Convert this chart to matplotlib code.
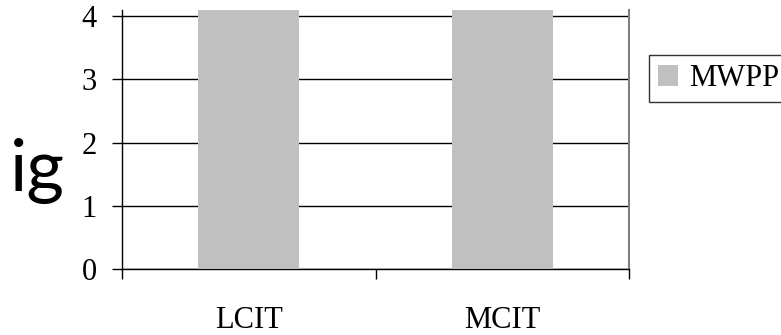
import matplotlib
matplotlib.use("Agg")
import matplotlib.pyplot as plt

# chart data
categories = ["LCIT", "MCIT"]
mwpp = [4.3, 4.3]          # bars run past the top of the axis
y_ticks = [0, 1, 2, 3, 4]

plt.rcParams['font.family'] = ['Liberation Serif', 'DejaVu Serif']

W, H = 781, 335
fig = plt.figure(figsize=(W / 100, H / 100), dpi=100)

# plot area in pixels: left 122, right 629, bottom 269, top 10
ax = fig.add_axes([122 / W, 1 - 269 / H, (629 - 122) / W, (269 - 10) / H])

x = list(range(len(categories)))
ax.bar(x, mwpp, width=0.4, color='#c0c0c0', zorder=3, label='MWPP')

ax.set_xlim(-0.5, len(categories) - 0.5)
ax.set_ylim(0, 4.1)

# category axis: ticks between categories, labels centred
ax.set_xticks([i - 0.5 for i in range(len(categories) + 1)])
ax.set_xticklabels([])
ax.set_xticks(x, minor=True)
ax.set_xticklabels(categories, minor=True)
ax.tick_params(axis='x', which='major', direction='out', length=7, width=1, color='black')
ax.tick_params(axis='x', which='minor', length=0, pad=27, labelsize=22)

ax.set_yticks(y_ticks)
ax.tick_params(axis='y', direction='out', length=7, width=1, pad=11, labelsize=22)

ax.grid(axis='y', color='black', linewidth=1, zorder=1)
ax.set_axisbelow(True)

ax.spines['top'].set_visible(False)
ax.spines['right'].set_color('#808080')
ax.spines['right'].set_linewidth(1.5)
for s in ('left', 'bottom'):
    ax.spines[s].set_color('black')
    ax.spines[s].set_linewidth(1)

fig.text(37 / W, 1 - 171 / H, 'ig', fontsize=52, family=['Lato', 'DejaVu Sans'],
         ha='center', va='center', color='black')

leg = ax.legend(loc='upper left', bbox_to_anchor=(649 / W, 1 - 55 / H),
                bbox_transform=fig.transFigure, fontsize=22,
                frameon=True, fancybox=False, handlelength=0.65,
                handleheight=0.65, handletextpad=0.35, borderpad=0.3,
                borderaxespad=0)
leg.get_frame().set_edgecolor('black')
leg.get_frame().set_linewidth(1)

fig.savefig('out.png', dpi=100)
